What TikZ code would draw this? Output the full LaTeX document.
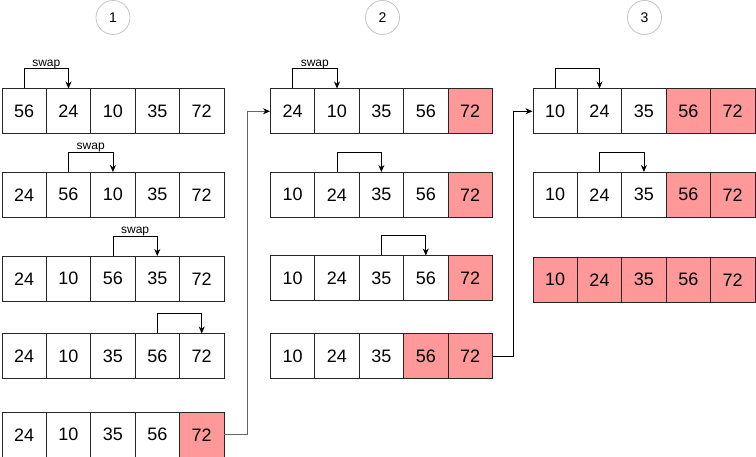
\documentclass[tikz,border=0pt]{standalone}
\usepackage{fontspec}
\setmainfont{Liberation Sans}
\usetikzlibrary{arrows.meta}
\definecolor{pinkc}{HTML}{FF9999}
\begin{document}
\begin{tikzpicture}[x=1pt,y=-1pt,
  cell/.style={draw=black!85, line width=0.8pt, minimum width=44.4pt, minimum height=44.8pt, inner sep=0pt, anchor=north west, font=\fontsize{18}{18}\selectfont},
  done/.style={cell, fill=pinkc},
  swp/.style={draw=black, line width=0.8pt, -{Stealth[length=7pt,width=6pt]}},
  conn/.style={line width=0.8pt, -{Stealth[length=7pt,width=6pt,color=black]}},
  lbl/.style={font=\fontsize{12}{12}\selectfont, inner sep=0pt, anchor=base, yshift=2pt},
  circ/.style={circle, draw=black!25, line width=0.7pt, minimum size=34pt, inner sep=0pt, font=\fontsize{14}{14}\selectfont}]
\useasboundingbox (0,0) rectangle (756,457);
\def\cw{44.4}
% step labels
\node[circ] (n1) at (113,17.5) {1};
\node[circ] (n2) at (382.5,17.5) {2};
\node[circ] (n3) at (644.5,17.5) {3};
% column 1
\foreach \v/\s [count=\i] in {56/cell,24/cell,10/cell,35/cell,72/cell}
  \node[\s] (a1-\i) at ({1.5+(\i-1)*\cw},88.5) {\v};
\foreach \v/\s [count=\i] in {24/cell,56/cell,10/cell,35/cell,72/cell}
  \node[\s] (a2-\i) at ({1.5+(\i-1)*\cw},172) {\v};
\foreach \v/\s [count=\i] in {24/cell,10/cell,56/cell,35/cell,72/cell}
  \node[\s] (a3-\i) at ({1.5+(\i-1)*\cw},256) {\v};
\foreach \v/\s [count=\i] in {24/cell,10/cell,35/cell,56/cell,72/cell}
  \node[\s] (a4-\i) at ({1.5+(\i-1)*\cw},333.5) {\v};
\foreach \v/\s [count=\i] in {24/cell,10/cell,35/cell,56/cell,72/done}
  \node[\s] (a5-\i) at ({1.5+(\i-1)*\cw},412) {\v};
% column 2
\foreach \v/\s [count=\i] in {24/cell,10/cell,35/cell,56/cell,72/done}
  \node[\s] (b1-\i) at ({270+(\i-1)*\cw},88.5) {\v};
\foreach \v/\s [count=\i] in {10/cell,24/cell,35/cell,56/cell,72/done}
  \node[\s] (b2-\i) at ({270+(\i-1)*\cw},172) {\v};
\foreach \v/\s [count=\i] in {10/cell,24/cell,35/cell,56/cell,72/done}
  \node[\s] (b3-\i) at ({270+(\i-1)*\cw},255.5) {\v};
\foreach \v/\s [count=\i] in {10/cell,24/cell,35/cell,56/done,72/done}
  \node[\s] (b4-\i) at ({270+(\i-1)*\cw},333.5) {\v};
% column 3
\foreach \v/\s [count=\i] in {10/cell,24/cell,35/cell,56/done,72/done}
  \node[\s] (c1-\i) at ({532.5+(\i-1)*\cw},88.5) {\v};
\foreach \v/\s [count=\i] in {10/cell,24/cell,35/cell,56/done,72/done}
  \node[\s] (c2-\i) at ({532.5+(\i-1)*\cw},172) {\v};
\foreach \v/\s [count=\i] in {10/done,24/done,35/done,56/done,72/done}
  \node[\s] (c3-\i) at ({532.5+(\i-1)*\cw},257) {\v};
% swap arrows
\draw[swp] (a1-1.north) -- ++(0,-20) -| node[lbl,pos=0.25] (s1) {swap} (a1-2.north);
\draw[swp] (a2-2.north) -- ++(0,-20) -| node[lbl,pos=0.25] (s2) {swap} (a2-3.north);
\draw[swp] (a3-3.north) -- ++(0,-20) -| node[lbl,pos=0.25] (s3) {swap} (a3-4.north);
\draw[swp] (a4-4.north) -- ++(0,-20) -| (a4-5.north);
\draw[swp] (b1-1.north) -- ++(0,-20) -| node[lbl,pos=0.25] (s4) {swap} (b1-2.north);
\draw[swp] (b2-2.north) -- ++(0,-20) -| (b2-3.north);
\draw[swp] (b3-3.north) -- ++(0,-20) -| (b3-4.north);
\draw[swp] (c1-1.north) -- ++(0,-20) -| (c1-2.north);
\draw[swp] (c2-2.north) -- ++(0,-20) -| (c2-3.north);
% pass connectors
\draw[conn, draw=black!60] (a5-5.east) -- ++(23,0) |- (b1-1.west);
\draw[conn, draw=black] (b4-5.east) -- ++(21,0) |- (c1-1.west);
\end{tikzpicture}
\end{document}
